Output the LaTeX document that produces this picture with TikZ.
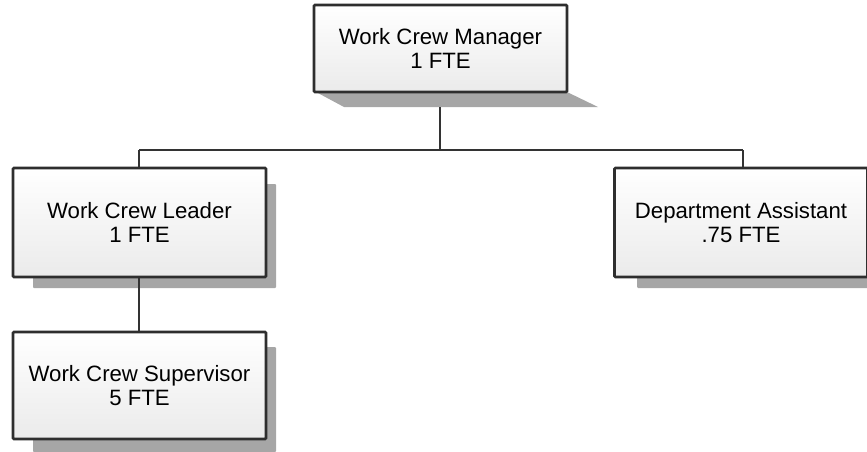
\documentclass[tikz,border=0pt]{standalone}
\usepackage{fontspec}
\setmainfont{Liberation Sans}
\begin{document}
\begin{tikzpicture}[x=1pt,y=-1pt,
  box/.style={draw=black!82,line width=2.8pt,top color=white,bottom color=black!8,
    rounded corners=1pt,align=center,font=\fontsize{22.2}{23.5}\selectfont,inner sep=0pt},
  conn/.style={draw=black!80,line width=1.6pt}]
\useasboundingbox (0,0) rectangle (867,452);
% shadows
\fill[black!35] (316,92) -- (344,107) -- (598,107) -- (567,92) -- cycle;
\fill[black!35,rounded corners=1pt] (33,184) rectangle (276,288);
\fill[black!35,rounded corners=1pt] (637,184) rectangle (880,288);
\fill[black!35,rounded corners=1pt] (33,347) rectangle (276,452);
% junction coordinates
\coordinate (mb) at (440,107);
\coordinate (jm) at (440,150);
\coordinate (jl) at (139,150);
\coordinate (jr) at (743,150);
% boxes
\node[box,minimum width=253pt,minimum height=87pt] (mgr) at (440.5,48.5) {Work Crew Manager\\1 FTE};
\node[box,minimum width=253pt,minimum height=109pt] (lead) at (139.5,222.5) {Work Crew Leader\\1 FTE};
\node[box,minimum width=253pt,minimum height=109pt] (dept) at (741,222.5) {Department Assistant\\.75 FTE};
\node[box,minimum width=253pt,minimum height=107pt] (sup) at (139.5,385.5) {Work Crew Supervisor\\5 FTE};
\draw[conn] (mb) -- (jm);
\draw[conn] (jl) -- (jr);
\draw[conn] (jl) -- (lead.north -| jl);
\draw[conn] (jr) -- (dept.north -| jr);
\draw[conn] (lead.south -| jl) -- (sup.north -| jl);
\end{tikzpicture}
\end{document}
